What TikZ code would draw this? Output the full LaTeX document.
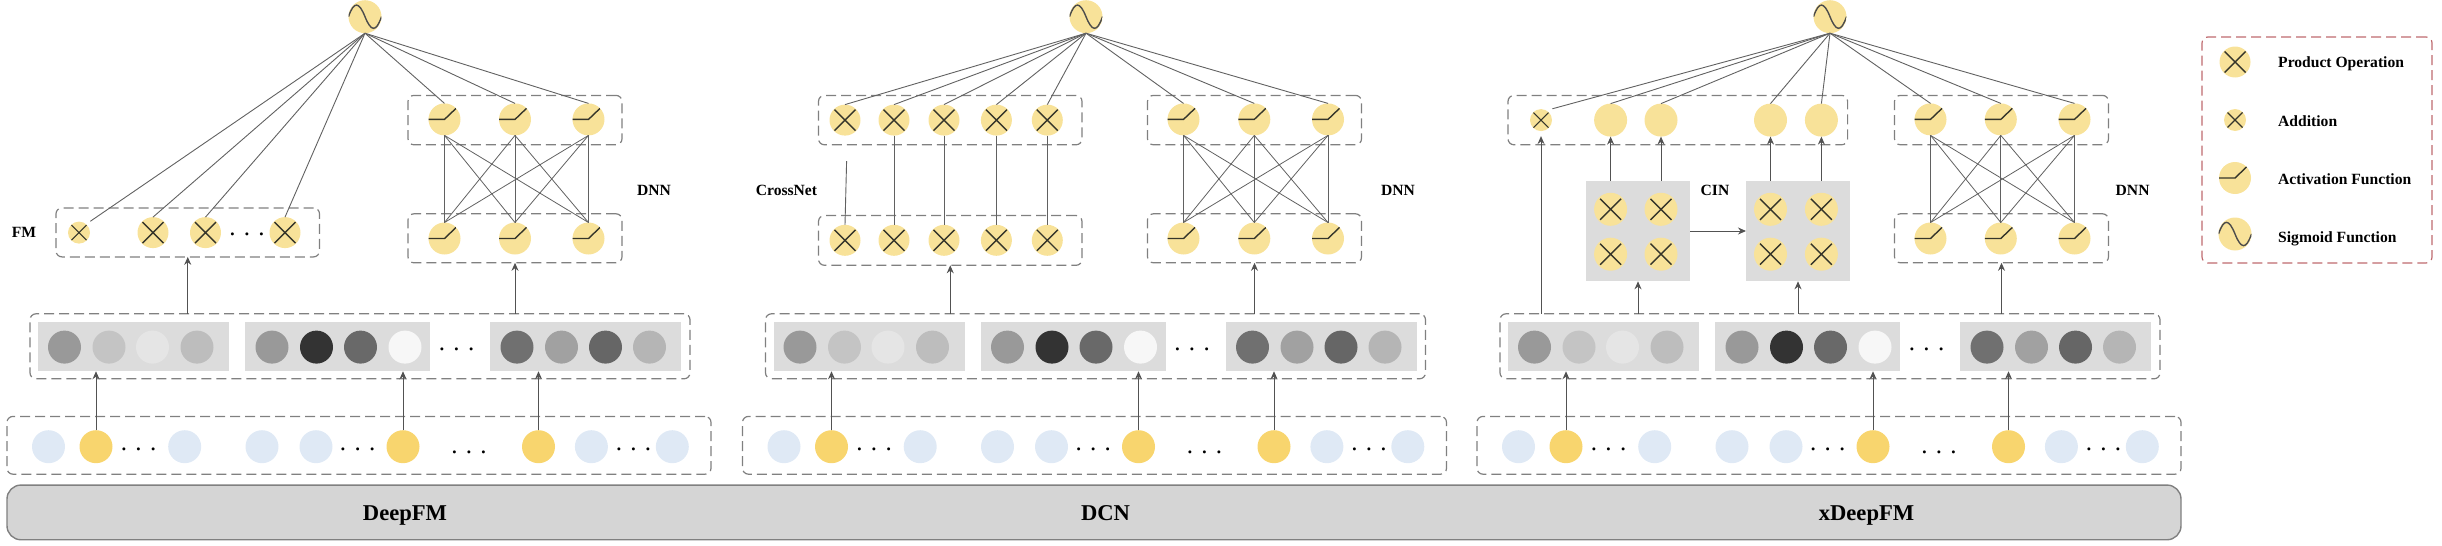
\documentclass[tikz,border=0pt]{standalone}
\usepackage{fontspec}
\setmainfont{Liberation Serif}
\usetikzlibrary{arrows.meta}
\definecolor{nodeYellow}{HTML}{F8E299}
\definecolor{hotYellow}{HTML}{F8D56E}
\definecolor{coldBlue}{HTML}{DFE9F5}
\definecolor{rectGray}{HTML}{DCDCDC}
\definecolor{barGray}{HTML}{D5D5D5}
\definecolor{dashGray}{HTML}{808080}
\definecolor{legendRed}{HTML}{BE6A6E}
\definecolor{glyphDark}{HTML}{35352A}
\begin{document}
\begin{tikzpicture}
[x=1pt,y=-1pt,
  lineDecorate/.style={-,draw=black!62,line width=0.9pt},%
  arrowDecorate/.style={-{Stealth[length=8pt,width=7pt]},draw=black!68,line width=1pt},%
  glyphDecorate/.style={draw=glyphDark,line width=1.4pt},%
  dashDecorate/.style={shape=rectangle,draw=dashGray,line width=1.2pt,rounded corners=6pt,
    dash pattern=on 10pt off 5pt,inner sep=0pt,outer sep=0pt},%
  rectDecorate/.style={shape=rectangle,fill=rectGray,inner sep=0pt,outer sep=0pt},%
  ballDecorate/.style={shape=circle,inner sep=0pt,outer sep=0pt,minimum size=33pt},%
  plainBall/.style={ballDecorate,fill=nodeYellow},%
  productBall/.style={ballDecorate,fill=nodeYellow,minimum size=31pt,
    path picture={\draw[glyphDecorate,shift={(path picture bounding box.center)}]
      (-10.5pt,10.5pt) -- (10.5pt,-10.5pt) (-10.5pt,-10.5pt) -- (10.5pt,10.5pt);}},%
  addBall/.style={ballDecorate,fill=nodeYellow,minimum size=22pt,outer sep=5pt,
    path picture={\draw[glyphDecorate,line width=1.1pt,shift={(path picture bounding box.center)}]
      (-7.5pt,7.5pt) -- (7.5pt,-7.5pt) (-7.5pt,-7.5pt) -- (7.5pt,7.5pt);}},%
  activeBall/.style={ballDecorate,fill=nodeYellow,minimum size=32pt,
    path picture={\draw[glyphDecorate,shift={(path picture bounding box.center)}]
      (-16pt,0pt) -- (0pt,0pt) -- (12pt,11.5pt);}},%
  sigmoidBall/.style={ballDecorate,fill=nodeYellow,
    path picture={\draw[glyphDecorate,draw=black!70,shift={(path picture bounding box.center)}]
      (-16.5pt,0pt) .. controls (-11pt,16pt) and (-6pt,15pt) .. (0pt,0pt)
      .. controls (6pt,-15pt) and (11pt,-16pt) .. (16.5pt,0pt);}},%
  dotsText/.style={font=\fontsize{25}{25}\selectfont,inner sep=0pt},%
  smallText/.style={font=\bfseries\fontsize{15.6}{18}\selectfont,inner sep=0pt,anchor=base},%
  bigText/.style={font=\bfseries\fontsize{22.6}{26}\selectfont,inner sep=0pt,anchor=base}]
\useasboundingbox (0,0) rectangle (2442,546);
%% bar below the three models
\node (bar) at (1094,512.4) [shape=rectangle,draw=dashGray,fill=barGray,line width=1.4pt,
  rounded corners=14pt,minimum width=2174pt,minimum height=54.7pt] {};
\node (deepfm) at (405,520.5) [bigText] {DeepFM};
\node (dcn) at (1105.5,520.5) [bigText] {DCN};
\node (xdeepfm) at (1866.5,520.5) [bigText] {xDeepFM};
%% input and embedding rows, the same for each model
\foreach \pn/\dx in {a/0, b/735.5, c/1470}
{
  \begin{scope}[xshift=\dx pt]
    \node (\pn in) at (359,445.3) [dashDecorate,minimum width=704pt,minimum height=57.8pt] {};
    \foreach \nodename/\x/\kind in {
      1/48.5/coldBlue, 2/96/hotYellow, 3/184.7/coldBlue, 4/262/coldBlue, 5/316/coldBlue,
      6/403/hotYellow, 7/538.5/hotYellow, 8/591.4/coldBlue, 9/672.3/coldBlue}
    {
      \node (\pn in\nodename) at (\x,446.7) [ballDecorate,fill=\kind] {};
    }
    \node (\pn dotsa) at (138.6,449.5) [dotsText] {. . .};
    \node (\pn dotsb) at (357.7,449.5) [dotsText] {. . .};
    \node (\pn dotsc) at (469,452.6) [dotsText] {. . .};
    \node (\pn dotsd) at (633.5,449.5) [dotsText] {. . .};
    \node (\pn emb) at (360,346.3) [dashDecorate,minimum width=660pt,minimum height=65pt] {};
    \foreach \nodename/\x/\wide in {1/133.5/191, 2/337.5/185, 3/585.5/191}
    {
      \node (\pn rect\nodename) at (\x,346.5) [rectDecorate,minimum width=\wide pt,minimum height=49.5pt] {};
    }
    \foreach \nodename/\x/\level in {
      1/64.5/40, 2/109/23, 3/152.5/10, 4/197/26,
      5/272/40, 6/316.5/80, 7/360.5/59, 8/405/3,
      9/517/56, 10/561.5/37, 11/605.5/60, 12/649.5/29}
    {
      \node (\pn emb\nodename) at (\x,347.1) [ballDecorate,fill=black!\level] {};
    }
    \node (\pn dotse) at (456.6,349.2) [dotsText] {. . .};
    \draw[arrowDecorate] (\pn in2.north) -- (\pn in2.north |- \pn rect1.south);
    \draw[arrowDecorate] (\pn in6.north) -- (\pn in6.north |- \pn rect2.south);
    \draw[arrowDecorate] (\pn in7.north) -- (\pn in7.north |- \pn rect3.south);
  \end{scope}
}
%% sigmoid on top and the DNN of each model
\foreach \pn/\sigx/\boxx/\xa/\xb/\xc/\labx in {
  a/365/515/444.5/515/588.5/654,
  b/1086/1254.5/1183.5/1254.3/1328/1398,
  c/1830/2001.5/1930.5/2000.8/2074.5/2132.6}
{
  \node (\pn sig) at (\sigx,16.7) [sigmoidBall] {};
  \node (\pn dnnTop) at (\boxx,120.1) [dashDecorate,minimum width=214pt,minimum height=49.4pt] {};
  \node (\pn dnnBot) at (\boxx,238.3) [dashDecorate,minimum width=214pt,minimum height=49pt] {};
  \foreach \nodename/\x in {1/\xa, 2/\xb, 3/\xc}
  {
    \node (\pn top\nodename) at (\x,119.4) [activeBall] {};
    \node (\pn bot\nodename) at (\x,238.5) [activeBall] {};
    \draw[lineDecorate] (\pn sig.south) -- (\pn top\nodename.north);
  }
  \foreach \startnode in {1,2,3}
  {
    \foreach \endnode in {1,2,3}
    {
      \draw[lineDecorate,line width=0.8pt] (\pn top\startnode.south) -- (\pn bot\endnode.north);
    }
  }
  \draw[arrowDecorate] (\pn dnnBot.south |- \pn emb.north) -- (\pn dnnBot.south);
  \node (\pn dnnLabel) at (\labx,195) [smallText] {DNN};
}
%% FM part of DeepFM
\node (fmBox) at (187.75,232.4) [dashDecorate,minimum width=263.5pt,minimum height=49pt] {};
\node (fmLabel) at (24,237.5) [smallText] {FM};
\node (fm1) at (79,232.6) [addBall] {};
\foreach \nodename/\x in {2/153, 3/205.5, 4/285}
{
  \node (fm\nodename) at (\x,232.6) [productBall] {};
  \draw[lineDecorate] (asig.south) -- (fm\nodename.north);
}
\draw[lineDecorate] (asig.south) -- (fm1.north east);
\node (fmDots) at (247,234.3) [dotsText] {. . .};
\draw[arrowDecorate] (fmBox.south |- aemb.north) -- (fmBox.south);
%% CrossNet part of DCN
\node (crossTop) at (950.25,120.1) [dashDecorate,minimum width=263.5pt,minimum height=49.4pt] {};
\node (crossBot) at (950.25,240.4) [dashDecorate,minimum width=263.5pt,minimum height=49.8pt] {};
\node (crossLabel) at (786.5,195) [smallText] {CrossNet};
\coordinate (crossGap) at (846.6,161.2);
\foreach \nodename/\x in {1/845, 2/894, 3/944, 4/996.4, 5/1047.3}
{
  \node (top\nodename) at (\x,120.1) [productBall] {};
  \node (bot\nodename) at (\x,240.3) [productBall] {};
  \draw[lineDecorate] (bsig.south) -- (top\nodename.north);
}
\draw[lineDecorate] (crossGap) -- (bot1.north);
\foreach \nodename in {2,3,4,5}
{
  \draw[lineDecorate] (top\nodename.south) -- (bot\nodename.north);
}
\draw[arrowDecorate] (crossBot.south |- bemb.north) -- (crossBot.south);
%% CIN part of xDeepFM
\node (cinTop) at (1677.8,120.1) [dashDecorate,minimum width=339.6pt,minimum height=49.4pt] {};
\node (cinAdd) at (1541,120.1) [addBall] {};
\draw[lineDecorate] (csig.south) -- (cinAdd.north east);
\draw[arrowDecorate] (cinAdd.south |- cemb.north) -- (cinAdd.south);
\node (cinRectA) at (1638,231) [rectDecorate,minimum width=104pt,minimum height=100.6pt] {};
\node (cinRectB) at (1798,231) [rectDecorate,minimum width=104pt,minimum height=100.6pt] {};
\node (cinLabel) at (1715,195) [smallText] {CIN};
\foreach \nodename/\x/\rect in {1/1610.6/A, 2/1661/A, 3/1770.5/B, 4/1821.4/B}
{
  \node (cinOut\nodename) at (\x,120.1) [plainBall] {};
  \node (cinUp\nodename) at (\x,209.3) [productBall,minimum size=33pt] {};
  \node (cinDown\nodename) at (\x,254.2) [productBall,minimum size=33pt] {};
  \draw[lineDecorate] (csig.south) -- (cinOut\nodename.north);
  \draw[arrowDecorate] (cinOut\nodename.south |- cinRect\rect.north) -- (cinOut\nodename.south);
}
\draw[arrowDecorate] (cinRectA.east) -- (cinRectB.west);
\draw[arrowDecorate] (cinRectA.south |- cemb.north) -- (cinRectA.south);
\draw[arrowDecorate] (cinRectB.south |- cemb.north) -- (cinRectB.south);
%% legend
\node (legend) at (2317,150) [dashDecorate,draw=legendRed,minimum width=230pt,minimum height=226pt] {};
\foreach \nodename/\y/\base/\kind/\name in {
  1/62/67.7/productBall/Product Operation, 2/120/126/addBall/Addition,
  3/178/184.5/activeBall/Activation Function, 4/234/242/sigmoidBall/Sigmoid Function}
{
  \node (legend\nodename) at (2235,\y) [\kind] {};
  \node (legendText\nodename) at (2278,\base) [smallText,anchor=base west] {\name};
}
\end{tikzpicture}
\end{document}
